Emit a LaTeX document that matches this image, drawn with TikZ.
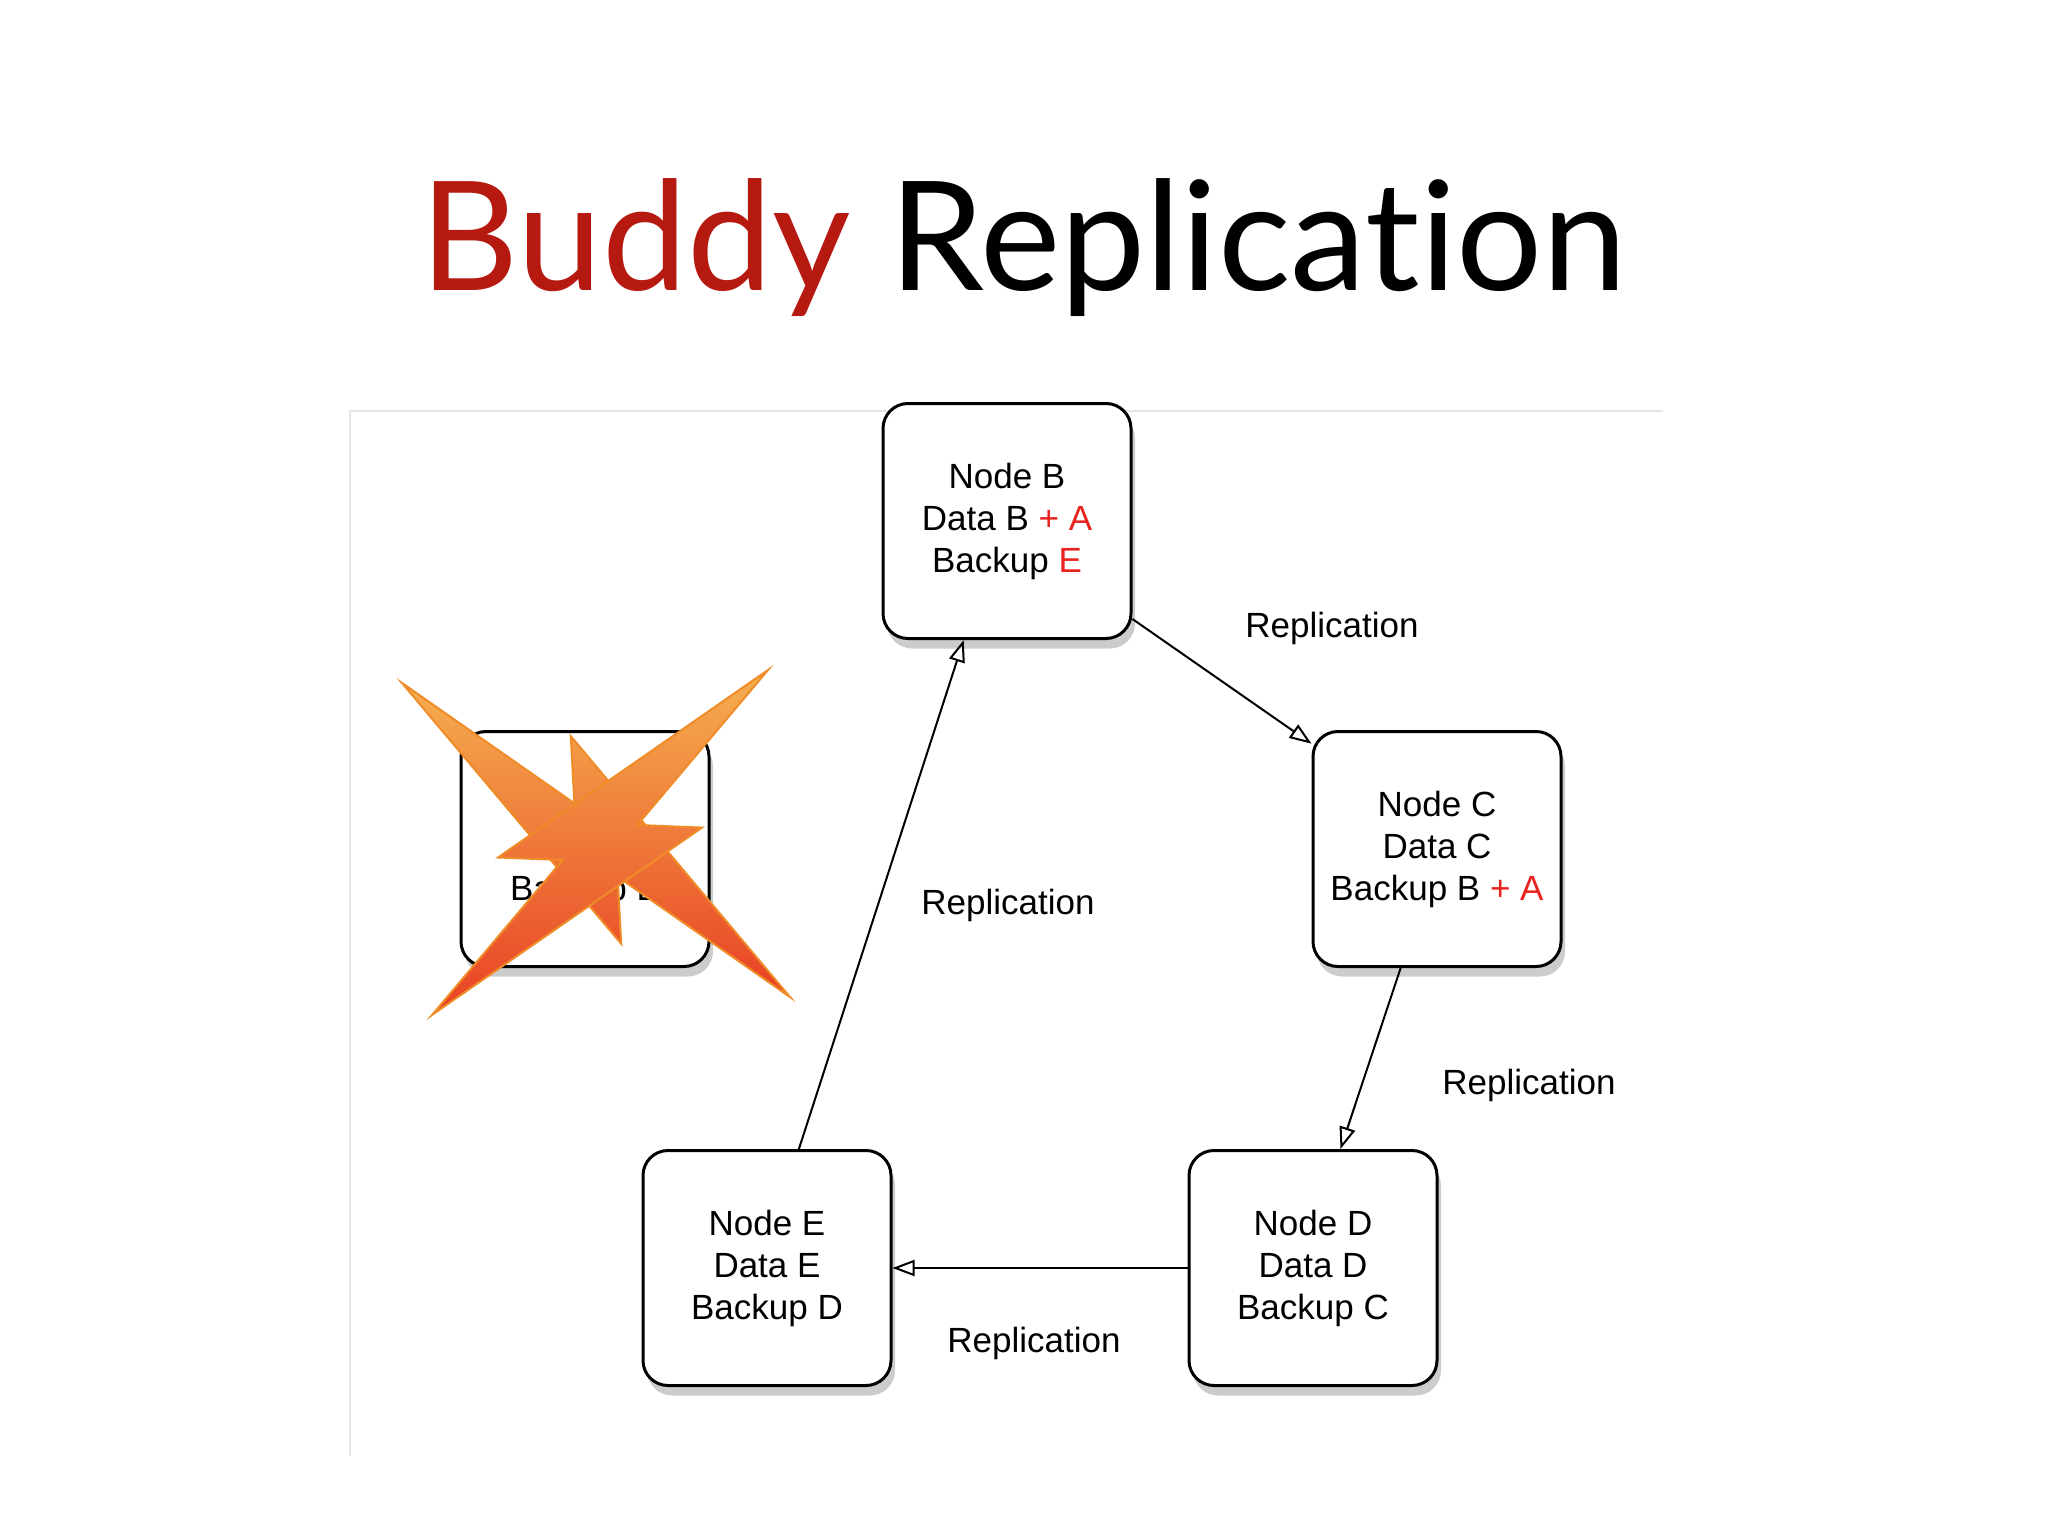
\documentclass[tikz,border=0pt]{standalone}
\usepackage{fontspec}
\setmainfont{Liberation Sans}
\newfontfamily\titlefont[Ligatures={NoCommon,NoRequired,NoContextual}]{Lato}
\usetikzlibrary{arrows.meta,shadows}
\definecolor{titlered}{HTML}{B5190F}
\definecolor{plusred}{HTML}{E8231E}
\begin{document}
\begin{tikzpicture}[x=1pt,y=-1pt,
  box/.style={draw=black,line width=3pt,fill=white,rounded corners=25pt,
    minimum width=248pt,minimum height=235pt,align=center,
    font=\fontsize{35}{42}\selectfont,
    drop shadow={shadow xshift=4pt,shadow yshift=-10pt,opacity=0.4}},
  conn/.style={line width=2pt,-{Triangle[open,length=22pt,width=16pt,line width=2pt]}},
  lbl/.style={font=\fontsize{35}{42}\selectfont},
  bolt/.style={draw={rgb,255:red,240;green,140;blue,40},line width=2pt,
    left color={rgb,255:red,245;green,175;blue,80},right color={rgb,255:red,232;green,65;blue,35},shading angle=0}]
\useasboundingbox (0,0) rectangle (2048,1536);
\fill[white] (0,0) rectangle (2048,1536);
\draw[black!10,line width=1.5pt] (350,1456) -- (350,411) -- (1663,411);
\node[font=\titlefont\fontsize{152}{180}\selectfont,anchor=base] (title) at (1024,290)
  {\textcolor{titlered}{Buddy} Replication};
\node[box] (A) at (585,849) {Node A\\Data A\\Backup E};
\node[box] (B) at (1007,521) {Node B\\Data B \textcolor{plusred}{+ A}\\Backup \textcolor{plusred}{E}};
\node[box] (C) at (1437,849) {Node C\\Data C\\Backup B \textcolor{plusred}{+ A}};
\node[box] (D) at (1313,1268) {Node D\\Data D\\Backup C};
\node[box] (E) at (767,1268) {Node E\\Data E\\Backup D};
\draw[conn] (B.-38) -- (C.140);
\draw[conn] (C.-107) -- (D.77);
\draw[conn] (D.west) -- (E.east);
\draw[conn] (E.75) -- (B.-110);
\node[lbl] (l1) at (1332,628) {Replication};
\node[lbl] (l2) at (1008,905) {Replication};
\node[lbl] (l3) at (1529,1085) {Replication};
\node[lbl] (l4) at (1034,1343) {Replication};
\path[bolt] (402,683) -- (574.4,803.3) -- (570.8,736.2) -- (790,997) -- (617.6,876.7) -- (621.2,943.8) -- cycle;
\path[bolt] (768,670) -- (637.3,825) -- (702,827.6) -- (432,1015) -- (562.7,860) -- (498,857.5) -- cycle;
\end{tikzpicture}
\end{document}
